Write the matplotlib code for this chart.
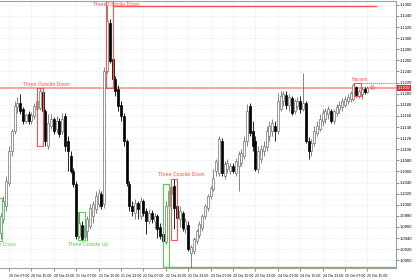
import numpy as np
import matplotlib.pyplot as plt
import matplotlib.transforms as mtransforms

plt.rcParams['font.family'] = ['Liberation Sans', 'DejaVu Sans']

# Hourly candles, 20 Oct 04:00 -> 25 Oct 15:00
opens = [1.0949, 1.0975, 1.0998, 1.1039, 1.1097, 1.1133, 1.1176, 1.1183, 1.1173, 1.1151,
         1.1164, 1.1151, 1.1160, 1.1173, 1.1174, 1.1203, 1.1169, 1.1106, 1.1142, 1.1155,
         1.1137, 1.1151, 1.1133, 1.1160, 1.1115, 1.1088, 1.1061, 1.1038, 1.0944, 1.0964,
         1.0942, 1.0953, 1.0962, 1.0980, 1.0993, 1.1002, 1.1020, 1.1002, 1.1241, 1.1327,
         1.1263, 1.1227, 1.1209, 1.1180, 1.1160, 1.1115, 1.1038, 1.0998, 1.0985, 1.1003,
         1.0980, 1.1007, 1.0989, 1.0971, 1.0985, 1.0971, 1.0980, 1.0960, 1.0948, 1.0933,
         1.0998, 1.1020, 1.1034, 1.0998, 1.0975, 1.0985, 1.0957, 1.0964, 1.0913, 1.0917,
         1.0935, 1.0946, 1.0958, 1.0980, 1.0994, 1.1016, 1.1029, 1.1061, 1.1057, 1.1115,
         1.1052, 1.1065, 1.1061, 1.1070, 1.1057, 1.1070, 1.1075, 1.1088, 1.1115, 1.1178,
         1.1133, 1.1115, 1.1065, 1.1083, 1.1097, 1.1104, 1.1124, 1.1133, 1.1142, 1.1133,
         1.1173, 1.1187, 1.1198, 1.1180, 1.1192, 1.1169, 1.1178, 1.1187, 1.1173, 1.1183,
         1.1115, 1.1097, 1.1111, 1.1129, 1.1137, 1.1151, 1.1155, 1.1164, 1.1169, 1.1151,
         1.1165, 1.1173, 1.1176, 1.1180, 1.1187, 1.1191, 1.1191, 1.1212, 1.1196, 1.1200,
         1.1209, 1.1203]
highs = [1.0985, 1.1016, 1.1052, 1.1106, 1.1137, 1.1187, 1.1194, 1.1200, 1.1176, 1.1165,
         1.1169, 1.1167, 1.1183, 1.1192, 1.1210, 1.1207, 1.1173, 1.1164, 1.1164, 1.1158,
         1.1160, 1.1156, 1.1165, 1.1165, 1.1124, 1.1097, 1.1066, 1.1043, 1.0987, 1.0971,
         1.0971, 1.0980, 1.1002, 1.1007, 1.1025, 1.1029, 1.1025, 1.1248, 1.1360, 1.1335,
         1.1268, 1.1232, 1.1216, 1.1187, 1.1165, 1.1119, 1.1043, 1.1007, 1.1011, 1.1007,
         1.1014, 1.1011, 1.0994, 1.0993, 1.0991, 1.0985, 1.0984, 1.0967, 1.0953, 1.1007,
         1.1038, 1.1039, 1.1047, 1.1002, 1.0998, 1.0989, 1.0976, 1.0971, 1.0928, 1.0942,
         1.0957, 1.0971, 1.0984, 1.1002, 1.1020, 1.1034, 1.1065, 1.1083, 1.1124, 1.1120,
         1.1079, 1.1083, 1.1075, 1.1075, 1.1084, 1.1097, 1.1101, 1.1124, 1.1182, 1.1183,
         1.1151, 1.1124, 1.1106, 1.1108, 1.1115, 1.1142, 1.1151, 1.1155, 1.1151, 1.1201,
         1.1205, 1.1205, 1.1205, 1.1200, 1.1196, 1.1191, 1.1194, 1.1196, 1.1237, 1.1187,
         1.1122, 1.1119, 1.1142, 1.1151, 1.1164, 1.1173, 1.1174, 1.1178, 1.1173, 1.1173,
         1.1182, 1.1187, 1.1192, 1.1196, 1.1200, 1.1205, 1.1219, 1.1214, 1.1209, 1.1212,
         1.1212, 1.1214]
lows = [1.0939, 1.0967, 1.0989, 1.1034, 1.1088, 1.1128, 1.1165, 1.1164, 1.1146, 1.1147,
        1.1146, 1.1146, 1.1155, 1.1171, 1.1171, 1.1165, 1.1106, 1.1101, 1.1137, 1.1128,
        1.1129, 1.1122, 1.1128, 1.1097, 1.1061, 1.1057, 1.1032, 1.0939, 1.0940, 1.0935,
        1.0937, 1.0935, 1.0957, 1.0967, 1.0985, 1.0996, 1.0993, 1.0994, 1.1237, 1.1255,
        1.1223, 1.1196, 1.1169, 1.1151, 1.1106, 1.1034, 1.0989, 1.0980, 1.0975, 1.0975,
        1.0975, 1.0980, 1.0948, 1.0966, 1.0967, 1.0957, 1.0940, 1.0939, 1.0931, 1.0930,
        1.0993, 1.1016, 1.0957, 1.0957, 1.0960, 1.0953, 1.0949, 1.0917, 1.0885, 1.0912,
        1.0930, 1.0940, 1.0953, 1.0975, 1.0989, 1.1011, 1.1025, 1.1052, 1.1052, 1.1052,
        1.1047, 1.1057, 1.1056, 1.1057, 1.1052, 1.1025, 1.1070, 1.1083, 1.1106, 1.1124,
        1.1097, 1.1061, 1.1057, 1.1075, 1.1088, 1.1097, 1.1115, 1.1124, 1.1115, 1.1128,
        1.1169, 1.1178, 1.1173, 1.1169, 1.1162, 1.1164, 1.1173, 1.1165, 1.1169, 1.1111,
        1.1083, 1.1088, 1.1106, 1.1124, 1.1133, 1.1142, 1.1147, 1.1155, 1.1147, 1.1146,
        1.1160, 1.1165, 1.1169, 1.1176, 1.1182, 1.1185, 1.1187, 1.1194, 1.1192, 1.1191,
        1.1200, 1.1201]
closes = [1.0980, 1.1007, 1.1043, 1.1097, 1.1133, 1.1178, 1.1183, 1.1169, 1.1151, 1.1162,
          1.1151, 1.1162, 1.1178, 1.1187, 1.1205, 1.1169, 1.1115, 1.1147, 1.1155, 1.1133,
          1.1151, 1.1128, 1.1155, 1.1106, 1.1097, 1.1061, 1.1038, 1.0944, 1.0967, 1.0939,
          1.0962, 1.0975, 1.0994, 1.1002, 1.1016, 1.1021, 1.0998, 1.1241, 1.1331, 1.1259,
          1.1227, 1.1205, 1.1178, 1.1160, 1.1115, 1.1039, 1.0998, 1.0989, 1.1003, 1.0993,
          1.1007, 1.0985, 1.0971, 1.0985, 1.0975, 1.0980, 1.0957, 1.0944, 1.0935, 1.0998,
          1.1025, 1.1032, 1.0994, 1.0976, 1.0989, 1.0958, 1.0971, 1.0921, 1.0924, 1.0939,
          1.0953, 1.0966, 1.0980, 1.0998, 1.1016, 1.1030, 1.1048, 1.1079, 1.1119, 1.1057,
          1.1074, 1.1075, 1.1070, 1.1061, 1.1079, 1.1092, 1.1093, 1.1115, 1.1169, 1.1129,
          1.1106, 1.1065, 1.1097, 1.1101, 1.1106, 1.1133, 1.1142, 1.1147, 1.1133, 1.1187,
          1.1196, 1.1200, 1.1180, 1.1194, 1.1165, 1.1187, 1.1187, 1.1173, 1.1183, 1.1115,
          1.1097, 1.1111, 1.1133, 1.1142, 1.1155, 1.1165, 1.1169, 1.1173, 1.1151, 1.1169,
          1.1176, 1.1180, 1.1187, 1.1191, 1.1194, 1.1201, 1.1216, 1.1198, 1.1205, 1.1209,
          1.1203, 1.1210]

time_labels = ['20 Oct 07:00', '20 Oct 15:00', '20 Oct 23:00', '21 Oct 07:00', '21 Oct 15:00',
               '21 Oct 23:00', '22 Oct 07:00', '22 Oct 15:00', '22 Oct 23:00', '23 Oct 07:00',
               '23 Oct 15:00', '23 Oct 23:00', '24 Oct 07:00', '24 Oct 15:00', '24 Oct 23:00',
               '25 Oct 07:00', '25 Oct 15:00']
time_ticks = [3, 11, 19, 27, 35, 43, 51, 59, 67, 75, 83, 91, 99, 107, 115, 123, 131]
price_ticks = [1.0900, 1.0920, 1.0940, 1.0960, 1.0980, 1.1000, 1.1020, 1.1040, 1.1060, 1.1080,
               1.1100, 1.1120, 1.1140, 1.1160, 1.1180, 1.1200, 1.1220, 1.1240, 1.1260, 1.1280,
               1.1300, 1.1320, 1.1340, 1.1360]
bid = 1.1210

# pattern boxes: (label, bar from, bar to, price low, price high, colour, label bar, label price, label va)
patterns = [
    ('Three Outside Down', 13.0, 15.1, 1.1106, 1.1210, 'red', 16.2, 1.1212, 'bottom'),
    ('Three Outside Down', 37.6, 40.1, 1.1210, 1.1370, 'red', 41.2, 1.1361, 'center'),
    ('Three Outside Up', 27.6, 30.1, 1.0937, 1.0987, 'green', 31.2, 1.0933, 'top'),
    ('Harami Cross', -1.5, 0.4, 1.0935, 1.1012, 'green', 5.6, 1.0933, 'top'),
    ('', 58.0, 60.1, 1.0887, 1.1038, 'green', 0, 0, 'top'),
    ('Three Outside Down', 60.9, 63.0, 1.0937, 1.1047, 'red', 64.4, 1.1050, 'bottom'),
    ('Harami', 126.2, 128.7, 1.1196, 1.1219, 'red', 128.2, 1.1221, 'bottom'),
]
cols = {'red': '#ff5050', 'green': '#55cc55'}

fig = plt.figure(figsize=(4.2, 2.8), dpi=100)
ax = fig.add_axes([0, 12 / 280, 396 / 420, 267 / 280])

x = np.arange(len(opens))
o = np.array(opens)
c = np.array(closes)
up = c >= o

ax.grid(True, color='#d8d8d8', linestyle=(0, (1, 2)), linewidth=0.5)
ax.set_axisbelow(True)

# horizontal lines
ax.axhline(bid, color='#ff9090', linewidth=1.2, zorder=1)
ax.hlines(1.1358, 40.1, 134.4, color='#ff5050', linewidth=1.0, zorder=1)
ax.hlines(1.1219, 128.0, 142, color='#ff5050', linewidth=0.7, linestyle=(0, (1, 1)), zorder=1)
ax.hlines(1.0887, 58.0, 142, color='#55cc55', linewidth=1.0, zorder=1)

# candles
ax.vlines(x[up], np.array(lows)[up], np.array(highs)[up], color='#707070', linewidth=0.6, zorder=2)
ax.vlines(x[~up], np.array(lows)[~up], np.array(highs)[~up], color='black', linewidth=0.6, zorder=2)
bottoms = np.minimum(o, c)
heights = np.maximum(np.abs(c - o), 0.00005)
ax.bar(x[up], heights[up], bottom=bottoms[up], width=0.7, color='white',
       edgecolor='#707070', linewidth=0.5, zorder=3)
ax.bar(x[~up], heights[~up], bottom=bottoms[~up], width=0.7, color='black',
       edgecolor='black', linewidth=0.5, zorder=3)

# pattern boxes
for name, x0, x1, lo, hi, col, lx, ly, va in patterns:
    ax.add_patch(plt.Rectangle((x0, lo), x1 - x0, hi - lo, fill=False,
                               edgecolor=cols[col], linewidth=0.8, zorder=4))
    if name:
        ha = 'right' if name == 'Harami Cross' else 'center'
        ax.text(lx, ly, name, color=cols[col], fontsize=3.6, ha=ha, va=va, zorder=5)

ax.plot([132.6], [bid + 0.0002], marker='o', markersize=2.5, markerfacecolor='none',
        markeredgecolor='#ff5050', markeredgewidth=0.6, zorder=5)

ax.set_xlim(-0.21, 141.2)
ax.set_ylim(1.0886, 1.1367)

ax.yaxis.tick_right()
ax.set_yticks(price_ticks)
ax.set_yticklabels([f'{p:.4f}' for p in price_ticks])
ax.set_xticks(time_ticks)
ax.set_xticklabels(time_labels, ha='left')
ax.tick_params(axis='y', labelsize=3.0, length=2, width=0.5, color='#606060', pad=1)
ax.tick_params(axis='x', labelsize=2.5, length=2, width=0.5, color='#606060', pad=2)

ax.spines['left'].set_visible(False)
for s in ['right', 'bottom', 'top']:
    ax.spines[s].set_color('#a0a0a0')
    ax.spines[s].set_linewidth(0.8)

# current price tag on the axis
trans = mtransforms.blended_transform_factory(ax.transAxes, ax.transData)
ax.text(1.004, bid, f'{bid:.4f}', transform=trans, fontsize=3.0, color='white',
        ha='left', va='center', zorder=6,
        bbox=dict(boxstyle='square,pad=0.25', facecolor='#e03030', edgecolor='none'))

fig.savefig('out.png', dpi=100)
